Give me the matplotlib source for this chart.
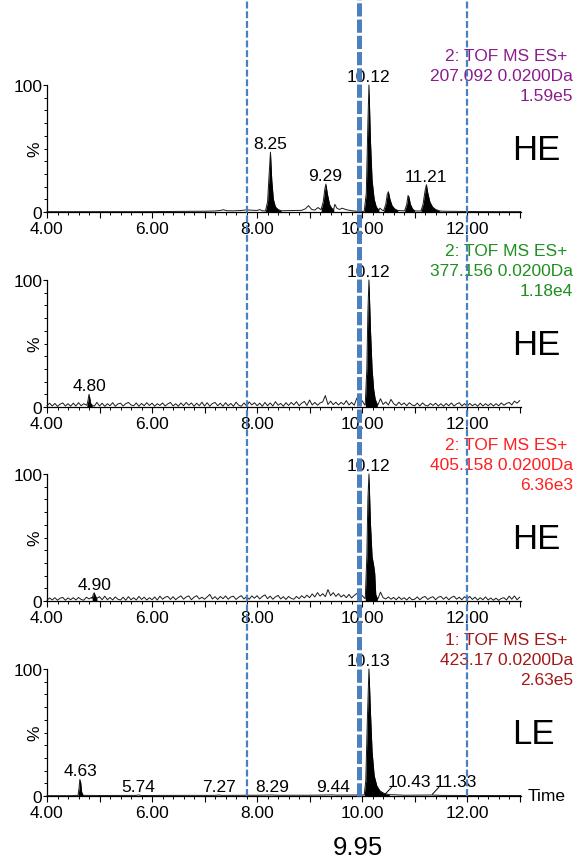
import numpy as np
import matplotlib
matplotlib.use("Agg")
import matplotlib.pyplot as plt
from matplotlib.lines import Line2D
from matplotlib.ticker import FixedLocator, MultipleLocator, FuncFormatter
import matplotlib.transforms as mtransforms

plt.rcParams['font.family'] = ['Liberation Sans', 'DejaVu Sans']
plt.rcParams['lines.scale_dashes'] = False

# ---------------- data ----------------
X_MIN, X_MAX = 4.0, 13.02
MARKERS = [7.8, 9.95, 12.0]          # dashed reference lines (min)
MARKER_LABEL = "9.95"

headers = [
    ['2: TOF MS ES+', '207.092 0.0200Da', '1.59e5'],
    ['2: TOF MS ES+', '377.156 0.0200Da', '1.18e4'],
    ['2: TOF MS ES+', '405.158 0.0200Da', '6.36e3'],
    ['1: TOF MS ES+', '423.17 0.0200Da', '2.63e5'],
]
header_colors = ['#8c1c8c', '#1f8f1f', '#ff1f1f', '#a31818']
modes = ['HE', 'HE', 'HE', 'LE']

# Panel 1 (207.092) baseline points
p1_base_t = [4.0, 5.0, 6.0, 6.6, 7.0, 7.2, 7.3, 7.36, 7.42, 7.55, 7.7, 7.8, 7.9, 8.0, 8.05,
             8.1, 8.15, 8.5, 8.7, 8.85, 8.92, 8.98, 9.04, 9.1, 9.16, 9.21, 9.48, 9.52, 9.57,
             9.62, 9.7, 9.8, 9.9, 10.0, 10.34, 10.38, 10.75, 11.05, 11.55, 12.0, 12.5, 13.02]
p1_base_y = [0.3, 0.3, 0.3, 0.5, 0.6, 0.8, 1.2, 1.8, 1.0, 0.9, 1.2, 1.7, 1.4, 1.2, 1.9,
             1.0, 0.8, 1.0, 1.2, 1.3, 2.5, 5.0, 2.0, 1.5, 3.5, 2.0, 6.0, 3.0, 2.0,
             3.0, 1.8, 1.0, 0.6, 0.5, 3.0, 1.5, 1.0, 0.8, 0.6, 0.4, 0.3, 0.3]
p1_peaks = [
    ('8.25', [8.16, 8.20, 8.23, 8.255, 8.28, 8.31, 8.35, 8.40, 8.46],
             [0.8, 8, 30, 47, 25, 10, 4, 2, 1.0]),
    ('9.29', [9.22, 9.26, 9.29, 9.31, 9.34, 9.38, 9.42, 9.46],
             [2.0, 8, 18, 22, 14, 6, 3, 2]),
    ('10.12', [10.04, 10.08, 10.11, 10.13, 10.16, 10.19, 10.23, 10.27, 10.32],
              [0.5, 15, 70, 100, 55, 25, 10, 4, 1.5]),
    ('', [10.41, 10.45, 10.48, 10.50, 10.53, 10.57, 10.62, 10.68],
         [1.0, 6, 14, 16, 10, 5, 2.5, 1.2]),
    ('', [10.81, 10.85, 10.875, 10.89, 10.92, 10.96, 11.0],
         [1.0, 6, 13, 12, 6, 2.5, 1.0]),
    ('11.21', [11.12, 11.16, 11.20, 11.225, 11.25, 11.29, 11.34, 11.40, 11.48],
              [0.8, 6, 17, 21.5, 15, 8, 4, 2, 0.8]),
]

# Panels 2 and 3: noisy baseline sampled every 0.05 min from 4.00 to 13.00
noise_t = np.round(np.arange(4.0, 13.001, 0.05), 2)
p2_noise = [
    1.0, 3.0, 0.8, 2.8, 0.5, 2.2, 3.2, 0.8, 2.6, 0.6,
    3.0, 0.8, 3.4, 1.0, 2.6, 1.5, 3.0, 2.2, 0.6, 3.6,
    0.8, 3.0, 0.5, 2.6, 1.0, 3.4, 0.6, 2.4, 3.0, 0.8,
    2.6, 3.6, 1.6, 1.0, 3.2, 0.6, 2.8, 1.0, 3.4, 1.2,
    3.0, 0.6, 2.6, 1.2, 3.2, 0.8, 2.4, 3.6, 0.8, 2.6,
    0.6, 3.2, 1.0, 3.6, 1.4, 3.2, 0.6, 3.0, 1.0, 3.8,
    0.8, 3.4, 0.6, 2.8, 3.6, 1.0, 3.0, 0.6, 3.4, 1.0,
    2.8, 0.6, 3.8, 1.4, 0.6, 3.2, 0.8, 4.0, 1.6, 3.4,
    1.0, 3.0, 0.6, 3.6, 1.0, 3.2, 0.8, 4.2, 1.4, 2.8,
    0.6, 3.4, 1.2, 3.6, 1.6, 4.2, 1.0, 3.0, 4.4, 1.2,
    5.5, 1.6, 3.6, 1.4, 3.2, 4.0, 9.0, 2.0, 4.6, 1.8,
    3.8, 1.6, 3.6, 2.0, 5.0, 1.6, 3.6, 1.4, 7.0, 3.0,
    5.0, 1.6, 2.0, 2.0, 2.0, 2.0, 1.6, 6.5, 2.0, 4.0,
    1.6, 6.0, 2.6, 1.2, 3.8, 1.6, 3.2, 1.0, 3.4, 1.6,
    1.0, 3.0, 0.8, 3.2, 1.4, 0.8, 2.8, 1.2, 3.0, 0.8,
    2.6, 0.6, 2.8, 1.0, 3.2, 0.8, 2.4, 3.4, 0.8, 2.6,
    0.6, 2.8, 1.0, 2.4, 0.6, 3.0, 0.8, 2.6, 1.0, 2.8,
    0.8, 2.6, 1.0, 3.2, 1.4, 2.8, 3.6, 1.6, 4.6, 3.0,
    5.0,
]
p2_peaks = [
    ('4.80', [4.76, 4.78, 4.80, 4.815, 4.83, 4.86], [1.5, 5, 10, 7, 3, 1.5]),
    ('10.12', [10.06, 10.09, 10.11, 10.13, 10.16, 10.19, 10.22, 10.25, 10.29],
              [2.0, 30, 75, 100, 60, 30, 14, 6, 2.0]),
]
p3_noise = [
    0.6, 2.4, 0.8, 2.6, 0.6, 2.2, 2.8, 0.6, 2.4, 1.0,
    2.6, 0.8, 2.8, 1.2, 0.6, 3.0, 1.6, 2.8, 2.0, 3.2,
    3.4, 1.0, 3.8, 1.0, 2.8, 0.8, 3.2, 1.4, 0.8, 3.0,
    0.6, 3.4, 1.0, 2.6, 0.8, 3.6, 1.2, 3.0, 0.8, 2.6,
    1.0, 3.2, 0.8, 3.8, 1.4, 3.0, 3.6, 1.2, 3.4, 1.0,
    2.8, 4.0, 1.4, 3.2, 4.0, 1.0, 3.0, 4.2, 1.6, 3.0,
    1.4, 3.2, 5.2, 1.6, 3.4, 1.2, 3.6, 1.8, 4.0, 1.4,
    3.2, 3.8, 1.2, 3.0, 4.2, 1.6, 3.4, 1.4, 4.0, 2.2,
    4.2, 1.6, 3.6, 4.8, 1.8, 3.8, 1.4, 3.2, 4.4, 1.6,
    3.4, 1.2, 3.6, 2.0, 1.4, 3.6, 1.8, 4.2, 2.4, 4.6,
    2.6, 5.6, 3.2, 6.6, 3.8, 5.8, 3.4, 9.0, 4.2, 6.6,
    3.6, 5.8, 3.2, 4.8, 2.6, 5.2, 2.4, 4.4, 6.0, 7.5,
    4.4, 2.0, 2.0, 2.0, 2.0, 2.0, 1.6, 7.0, 2.6, 1.6,
    3.2, 1.4, 2.8, 1.0, 3.2, 1.2, 2.6, 0.8, 3.0, 1.0,
    1.4, 3.2, 1.0, 2.8, 3.6, 1.2, 2.6, 3.4, 1.0, 3.0,
    3.6, 1.4, 3.2, 1.0, 2.8, 3.8, 1.4, 3.0, 1.0, 3.4,
    1.6, 3.6, 1.2, 3.0, 0.8, 2.6, 1.0, 3.2, 0.8, 2.4,
    0.6, 2.2, 0.5, 2.0, 2.6, 0.8, 3.8, 1.4, 4.0, 1.0,
    3.0,
]
p3_peaks = [
    ('4.90', [4.86, 4.88, 4.90, 4.92, 4.95], [2.0, 5, 6.5, 4, 2]),
    ('10.12', [10.06, 10.09, 10.11, 10.13, 10.16, 10.19, 10.22, 10.24, 10.26, 10.29],
              [2.0, 35, 80, 100, 60, 35, 28, 22, 5, 2.0]),
]

# Panel 4 (423.17, LE)
p4_base_t = [4.0, 4.5, 4.55, 5.0, 5.7, 5.74, 5.8, 6.5, 7.2, 7.27, 7.33, 8.0, 8.29, 8.35,
             9.0, 9.44, 9.5, 10.0, 10.6, 10.8, 11.33, 11.5, 12.0, 13.02]
p4_base_y = [0.3, 0.3, 0.5, 0.4, 0.5, 0.8, 0.4, 0.5, 0.5, 0.8, 0.5, 0.6, 0.8, 0.6,
             0.6, 0.9, 0.7, 0.8, 1.0, 0.6, 0.8, 0.5, 0.4, 0.4]
p4_peaks = [
    ('4.63', [4.59, 4.61, 4.625, 4.64, 4.66, 4.69], [0.4, 6, 13, 11, 3, 0.5]),
    ('10.13', [10.04, 10.07, 10.10, 10.13, 10.16, 10.19, 10.23, 10.28, 10.34, 10.42, 10.52],
              [0.8, 12, 60, 100, 65, 35, 16, 8, 4, 2, 1.0]),
]
p4_minor_labels = ['5.74', '7.27', '8.29', '9.44']
p4_pointer_labels = ['10.43', '11.33']


def build_trace(bt, by, peaks):
    bt = np.asarray(bt, float)
    by = np.asarray(by, float)
    keep = np.ones(len(bt), bool)
    for _, pt, py in peaks:
        keep &= ~((bt >= pt[0]) & (bt <= pt[-1]))
    t = np.concatenate([bt[keep]] + [np.asarray(p[1], float) for p in peaks])
    y = np.concatenate([by[keep]] + [np.asarray(p[2], float) for p in peaks])
    o = np.argsort(t, kind='stable')
    return t[o], y[o]


panels = [
    (p1_base_t, p1_base_y, p1_peaks),
    (noise_t, p2_noise, p2_peaks),
    (noise_t, p3_noise, p3_peaks),
    (p4_base_t, p4_base_y, p4_peaks),
]

# ---------------- figure ----------------
W, H = 579, 862
PX_PER_MIN = 52.5
fig = plt.figure(figsize=(W / 100, H / 100), dpi=100)

ax_left = 47 / W
ax_w = (520.7 - 47) / W
ax_h = 127 / H
bottoms_px = [213, 408, 602, 797]
FS = 12.5


def px2t(px):
    return X_MIN + (px - 47) / PX_PER_MIN


axes = []
for i, (bt, by, peaks) in enumerate(panels):
    ax = fig.add_axes([ax_left, 1 - bottoms_px[i] / H, ax_w, ax_h])
    axes.append(ax)
    t, y = build_trace(bt, by, peaks)
    ax.plot(t, y, color='#1a1a1a', lw=0.7, clip_on=False, zorder=3)
    for lab, pt, py in peaks:
        ax.fill_between(pt, 0, py, color='black', lw=0, zorder=3)
        if lab:
            ax.annotate(lab, xy=(float(lab), max(py)), xytext=(0, 0.8),
                        textcoords='offset points', ha='center', va='bottom',
                        fontsize=FS, zorder=5)
    ax.set_xlim(X_MIN, X_MAX)
    ax.set_ylim(0, 100)
    for s in ['top', 'right']:
        ax.spines[s].set_visible(False)
    for s in ['left', 'bottom']:
        ax.spines[s].set_linewidth(0.9)
    ax.xaxis.set_major_locator(FixedLocator(np.arange(4, 14, 1)))
    ax.xaxis.set_minor_locator(MultipleLocator(0.2))
    ax.xaxis.set_major_formatter(FuncFormatter(
        lambda v, p: f"{v:.2f}" if int(round(v)) % 2 == 0 else ""))
    ax.yaxis.set_major_locator(FixedLocator([0, 100]))
    ax.yaxis.set_minor_locator(MultipleLocator(10))
    ax.tick_params(axis='x', which='major', length=4, width=0.8, pad=2.2, labelsize=FS)
    ax.tick_params(axis='x', which='minor', length=2.2, width=0.7)
    ax.tick_params(axis='y', which='major', length=3, width=0.8, pad=0.5, labelsize=FS)
    ax.tick_params(axis='y', which='minor', length=2, width=0.7)
    ax.text(px2t(35), 50, '%', rotation=90, ha='center', va='center', fontsize=FS,
            clip_on=False)
    # header text (first line carries a trailing gap in the original)
    for line, yy, rx in zip(headers[i], [123, 107.5, 91.5], [567, 573, 573]):
        ax.text(px2t(rx), yy, line, ha='right', va='center', fontsize=FS,
                color=header_colors[i], clip_on=False)
    ax.text(px2t(512), 49, modes[i], ha='left', va='center',
            fontsize=25, clip_on=False)

ax4 = axes[3]
for lab in p4_minor_labels:
    ax4.annotate(lab, xy=(float(lab), 0.8), xytext=(0, 0.8), textcoords='offset points',
                 ha='center', va='bottom', fontsize=FS)
for lab in p4_pointer_labels:
    rt = float(lab)
    ax4.plot([rt + 0.01, rt + 0.13], [1.5, 6.8], color='black', lw=0.7, zorder=4)
    ax4.text(rt + 0.05, 7.5, lab, ha='left', va='baseline', fontsize=FS)
ax4.text(px2t(527), 0, 'Time', ha='left', va='center', fontsize=FS, clip_on=False)

# dashed reference lines spanning the figure
trans = mtransforms.blended_transform_factory(ax4.transData, fig.transFigure)
y_bot = 1 - 797 / H
styles = [(1.6, (5, 2)), (3.6, (9.5, 2.2)), (1.6, (5, 2))]
for xm, (lw, dash) in zip(MARKERS, styles):
    ln = Line2D([xm, xm], [y_bot, 1.0], transform=trans, color='#4a7fc0', lw=lw,
                dashes=dash, zorder=10)
    fig.add_artist(ln)

fig.text(358 / W, 1 - 848 / H, MARKER_LABEL, ha='center', va='center', fontsize=18.5)

fig.savefig('out.png', dpi=100)
